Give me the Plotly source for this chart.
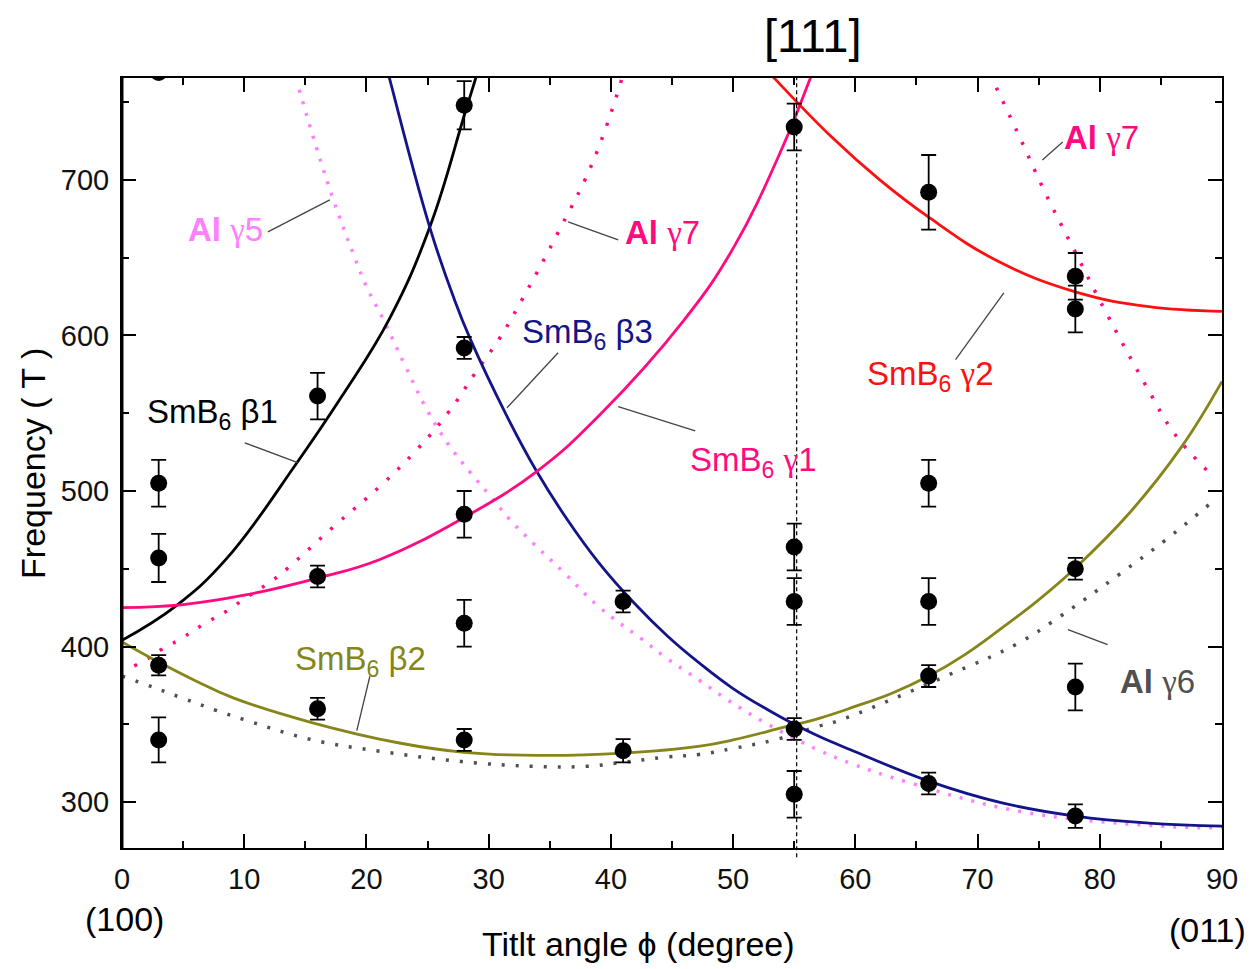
import plotly.graph_objects as go

# ---- measured dHvA frequencies (tilt angle in degrees, frequency in T) ----
obs_angle = [3, 3, 3, 3, 3,
             16, 16, 16,
             28, 28, 28, 28, 28,
             41, 41,
             55, 55, 55, 55, 55,
             66, 66, 66, 66, 66,
             78, 78, 78, 78, 78]
obs_freq = [769, 505, 457, 388, 340,
            561, 445, 360,
            748, 592, 485, 415, 340,
            429, 333,
            734, 464, 429, 347, 305,
            692, 505, 429, 381, 312,
            638, 617, 450, 374, 291]
obs_err = [0, 15, 15.5, 6.5, 14.5,
           15, 7, 7,
           15.5, 7, 15, 15, 7,
           7, 7.5,
           15, 15, 15, 7, 15,
           24, 15, 15, 7, 7,
           15, 15, 7, 15, 7.5]

# ---- calculated SmB6 branches ----
b1_ang = [0, 4.4, 8.5, 14.3, 18, 21.9, 25.2, 28.06, 29.3, 30.5]
b1_f = [404, 426, 456, 518, 561, 611, 670, 743, 775, 810]

b3_ang = [21.5, 21.9, 25.2, 27.2, 28.5, 31.5, 33.9, 36.4, 39, 41.9, 44.6, 47.3,
          50, 52.8, 55, 57.1, 59.6, 66, 72, 78, 84, 90]
b3_f = [778, 765, 669, 623, 597.6, 548, 513, 482, 454, 428, 407, 389,
        373, 359.5, 350, 342, 333.7, 313.5, 299.5, 291, 286.5, 284.5]

b2_ang = [0, 3, 6, 9.1, 15.6, 22.7, 28, 34, 41, 47.3, 50, 54.1, 57.1, 60, 63, 66,
          69, 72, 75, 78, 82.5, 86.7, 90]
b2_f = [403, 390, 378, 367, 351, 338, 332, 330, 331.5, 336, 340, 348, 354, 361.5,
        370, 381, 395, 412, 430, 450.5, 486.5, 528.5, 570.5]

g1_ang = [0, 5, 10, 16, 21.1, 28, 34, 39.1, 46, 50, 54.1, 56.3, 57]
g1_f = [425, 427, 433, 444, 456, 483, 513, 549, 610, 656, 722, 765, 779]

g2_ang = [52.5, 53.3, 58, 62, 66, 71.6, 78, 84, 90]
g2_f = [773, 766, 728, 700, 676, 648, 628, 618.5, 615.5]

# ---- aluminium branches ----
al5_ang = [14.5, 15.9, 17.3, 18.9, 20.0, 21.4, 23.2, 24.9, 26.7, 28.6, 30.1,
           31.8, 33.7, 36.1, 39.1, 42.5, 44.3, 47.3, 49.5, 52.4, 55, 57.1,
           59.6, 64.2, 73.5, 85.3, 90]
al5_f = [758, 721, 687, 653, 631.5, 610, 580, 553, 530, 511, 497,
         481, 466, 448, 425, 405, 394, 378, 366, 352, 341, 333,
         325, 313, 294, 284.5, 283.5]

al6_ang = [0, 2.7, 5.1, 7.7, 10.4, 15.6, 21.1, 27.9, 33.7, 38, 41, 44.6,
           47.2, 50, 53.5, 57, 58.5, 67.4, 73.3, 76.5, 81.7, 85.3, 88.6, 89.5]
al6_f = [381, 373.4, 366.4, 359, 352, 340, 332.7, 326, 323, 323, 325.6, 329,
         330.6, 334.5, 340.2, 348.8, 352, 381, 402, 418, 447, 468, 489, 495]

al7a_ang = [1, 2.25, 3.3, 4.6, 6.6, 8.8, 10, 12.4, 13.5, 17.3, 21.1, 24, 26.7,
            29, 30.8, 32.3, 35.8, 38.6, 40.9]
al7a_f = [387.5, 393, 398.5, 404, 414, 424, 430.6, 443, 450, 477, 503, 525.5,
          550.5, 577, 597, 617, 668, 713, 765]

al7b_ang = [71, 73.3, 75.4, 77.9, 80.5, 83.9, 86.1, 88.8]
al7b_f = [768, 730, 694, 655, 615, 566, 537, 513]

# ---- colours ----
C_BLACK = "#000000"
C_NAVY = "#14148a"
C_OLIVE = "#85851a"
C_PINK = "#ff0a80"
C_RED = "#ff1010"
C_VIOLET = "#ff80ff"
C_GRAY = "#505050"

FONT = "Liberation Sans, Arial, sans-serif"
SERIF = "Liberation Serif, Times New Roman, serif"

fig = go.Figure()


def curve(xs, ys, color, width=2.8, dash="solid"):
    fig.add_trace(go.Scatter(
        x=xs, y=ys, mode="lines",
        line=dict(color=color, width=width, dash=dash, shape="spline", smoothing=1.2),
        hoverinfo="skip", showlegend=False))


# dotted Al orbits first, solid SmB6 branches on top
curve(al5_ang, al5_f, C_VIOLET, width=3.5, dash="3px,9px")
curve(al6_ang, al6_f, C_GRAY, width=3.5, dash="3px,11px")
curve(al7a_ang, al7a_f, C_PINK, width=3.5, dash="3px,12px")
curve(al7b_ang, al7b_f, C_PINK, width=3.5, dash="3px,12px")

curve(b1_ang, b1_f, C_BLACK)
curve(b3_ang, b3_f, C_NAVY)
curve(b2_ang, b2_f, C_OLIVE)
curve(g1_ang, g1_f, C_PINK)
curve(g2_ang, g2_f, C_RED)

fig.add_trace(go.Scatter(
    x=obs_angle, y=obs_freq, mode="markers",
    marker=dict(color="black", size=17, symbol="circle"),
    error_y=dict(type="data", array=obs_err, visible=True,
                 color="black", thickness=1.8, width=7.5),
    showlegend=False, cliponaxis=True))

# [111] direction
fig.add_shape(type="line", xref="x", yref="paper", x0=55.2, x1=55.2, y0=-0.012, y1=1,
              line=dict(color="black", width=1.2, dash="4px,3px"))

# heavier left frame edge
fig.add_shape(type="line", xref="paper", yref="paper", x0=0, x1=0, y0=0, y1=1,
              line=dict(color="black", width=3))


def gamma(s):
    return f"<span style='font-family:{SERIF}'>{s}</span>"


labels = [
    # text, x, y, color
    ("<b>Al</b> " + gamma("γ") + "5", 8.5, 668, C_VIOLET),
    ("<b>Al</b> " + gamma("γ") + "7", 44.2, 666.5, C_PINK),
    ("<b>Al</b> " + gamma("γ") + "7", 80.1, 727, C_PINK),
    ("<b>Al</b> " + gamma("γ") + "6", 84.7, 377.5, C_GRAY),
    ("SmB<sub>6</sub> β3", 38.1, 601, C_NAVY),
    ("SmB<sub>6</sub> β1", 7.4, 549.5, C_BLACK),
    ("SmB<sub>6</sub> " + gamma("γ") + "1", 51.6, 518.5, C_PINK),
    ("SmB<sub>6</sub> " + gamma("γ") + "2", 66.1, 574, C_RED),
    ("SmB<sub>6</sub> β2", 19.5, 391, C_OLIVE),
]
for txt, lx, ly, col in labels:
    fig.add_annotation(x=lx, y=ly, xref="x", yref="y", text=txt, showarrow=False,
                       font=dict(family=FONT, size=33, color=col),
                       xanchor="center", yanchor="middle")

leaders = [
    (11.94, 666.6, 17.0, 687.2),
    (36.5, 673.0, 40.6, 661.5),
    (75.3, 712.8, 76.97, 724.4),
    (31.5, 553.5, 35.68, 588.9),
    (10.04, 531.0, 14.38, 518.2),
    (40.6, 554.2, 46.9, 538.7),
    (68.2, 584.4, 72.15, 627.4),
    (19.21, 346.0, 20.28, 380.9),
    (77.4, 410.9, 80.64, 401.3),
]
for x0, y0, x1, y1 in leaders:
    fig.add_shape(type="line", xref="x", yref="y", x0=x0, y0=y0, x1=x1, y1=y1,
                  line=dict(color="#444444", width=1.3))

# orientation / axis annotations
fig.add_annotation(x=56.5, y=1.0, xref="x", yref="paper", yshift=43, text="[111]",
                   showarrow=False, font=dict(family=FONT, size=47, color="black"),
                   xanchor="center", yanchor="middle")
fig.add_annotation(x=0.2, y=0, xref="x", yref="paper", yshift=-71, text="(100)",
                   showarrow=False, font=dict(family=FONT, size=34, color="black"),
                   xanchor="center", yanchor="middle")
fig.add_annotation(x=88.8, y=0, xref="x", yref="paper", yshift=-82, text="(011)",
                   showarrow=False, font=dict(family=FONT, size=34, color="black"),
                   xanchor="center", yanchor="middle")
fig.add_annotation(x=-0.081, y=0.5, xref="paper", yref="paper", textangle=-90,
                   text="Frequency ( T )", showarrow=False,
                   font=dict(family=FONT, size=34, color="black"),
                   xanchor="center", yanchor="middle")
fig.add_annotation(x=(638 - 122) / 1100, y=0, xref="paper", yref="paper", yshift=-96,
                   text="Titlt angle ϕ (degree)", showarrow=False,
                   font=dict(family=FONT, size=34, color="black"),
                   xanchor="center", yanchor="middle")

axis_common = dict(
    showline=True, linecolor="black", linewidth=2, mirror="ticks",
    ticks="inside", ticklen=14, tickwidth=2, tickcolor="black",
    showgrid=False, zeroline=False,
    tickfont=dict(family=FONT, size=29, color="#111111"),
)

fig.update_layout(
    width=1254, height=969,
    margin=dict(l=122, r=32, t=78, b=121),
    paper_bgcolor="white", plot_bgcolor="white",
    xaxis=dict(range=[0, 90], tickmode="linear", tick0=0, dtick=10,
               minor=dict(ticks="inside", ticklen=7, tickwidth=1.5, tickcolor="black",
                          dtick=5, tick0=0),
               ticklabelstandoff=4, **axis_common),
    yaxis=dict(range=[270.5, 765.5], tickmode="linear", tick0=300, dtick=100,
               minor=dict(ticks="inside", ticklen=7, tickwidth=1.5, tickcolor="black",
                          dtick=50, tick0=300),
               ticklabelstandoff=5, **axis_common),
    showlegend=False,
)

fig.write_html("out.html")
